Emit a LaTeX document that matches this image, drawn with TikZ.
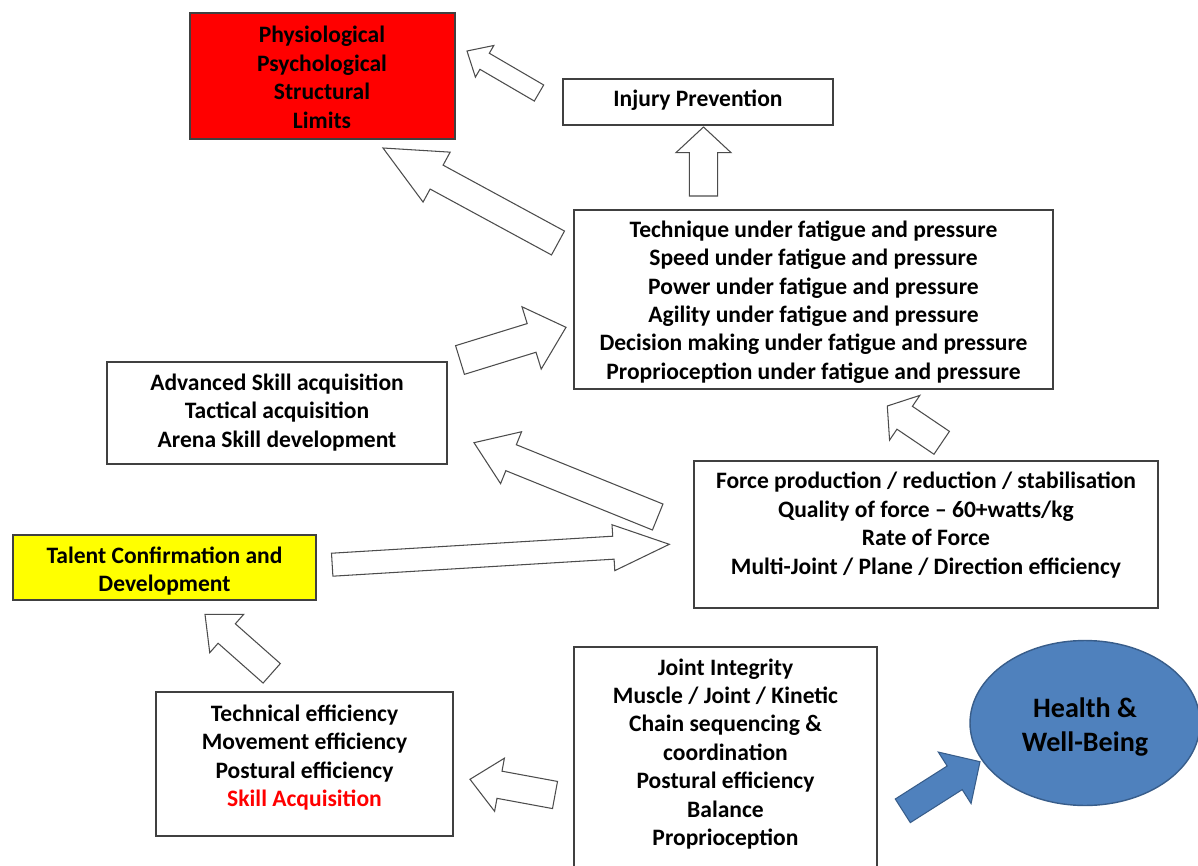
\documentclass[tikz,border=0pt]{standalone}
\usepackage{fontspec}
\setmainfont{Carlito}
\usepackage{xcolor}
\usepackage{tikz}
\usetikzlibrary{
	calc,
	shapes.geometric,
}
\definecolor{limitsred}{rgb}{1.0, 0.0, 0.0}
\definecolor{talentyellow}{rgb}{1.0, 1.0, 0.0}
\definecolor{healthblue}{rgb}{0.31, 0.506, 0.741}
\definecolor{healthedge}{rgb}{0.22, 0.365, 0.541}
\definecolor{boxline}{rgb}{0.25, 0.25, 0.25}
\definecolor{arrowline}{rgb}{0.3, 0.3, 0.3}

% block arrow: [style]{name}{tail}{tip}{half shaft}{half head}{head length}, sizes in px
\newcommand{\barrow}[7][blockarrow]{%
	\coordinate (#2-tail) at (#3);
	\coordinate (#2-tip) at (#4);
	\coordinate (#2-base) at ($(#2-tip)!#7*0.02cm!(#2-tail)$);
	\draw[#1] ($(#2-tail)!#5*0.02cm!90:(#2-tip)$) -- ($(#2-base)!#5*0.02cm!90:(#2-tip)$)
		-- ($(#2-base)!#6*0.02cm!90:(#2-tip)$) -- (#2-tip)
		-- ($(#2-base)!#6*0.02cm!-90:(#2-tip)$) -- ($(#2-base)!#5*0.02cm!-90:(#2-tip)$)
		-- ($(#2-tail)!#5*0.02cm!-90:(#2-tip)$) -- cycle;
}

\begin{document}
\begin{tikzpicture}[x=0.02cm, y=-0.02cm,
	box/.style={draw=boxline, line width=0.8pt},
	txt/.style={align=center, font=\fontsize{13.4}{16.2}\selectfont\bfseries},
	blockarrow/.style={draw=arrowline, fill=white, line width=0.6pt, line join=miter},
	bluearrow/.style={draw=healthedge, fill=healthblue, line width=0.6pt, line join=miter}]
\clip (0,0) rectangle (1198,866);
\fill[white] (0,0) rectangle (1198,866);

% limits
\draw[box, fill=limitsred] (190,13) rectangle (455,139);
\node[txt] (limits) at (322,77.5) {Physiological\\Psychological\\Structural\\Limits};

% injury prevention
\draw[box] (563,79) rectangle (833,125);
\node[txt] (injury) at (698,100) {Injury Prevention};

% under fatigue and pressure
\draw[box] (574,210) rectangle (1053,389);
\node[txt] (fatigue) at (813.5,302) {Technique under fatigue and pressure\\Speed under fatigue and pressure\\Power under fatigue and pressure\\Agility under fatigue and pressure\\Decision making under fatigue and pressure\\Proprioception under fatigue and pressure};

% advanced skill
\draw[box] (107,362) rectangle (447,464);
\node[txt] (advanced) at (277,412.5) {Advanced Skill acquisition\\Tactical acquisition\\Arena Skill development};

% force
\draw[box] (694,461) rectangle (1158,608);
\node[txt] (force) at (926,525) {Force production / reduction / stabilisation\\Quality of force -- 60+watts/kg\\Rate of Force\\Multi-Joint / Plane / Direction efficiency};

% talent
\draw[box, fill=talentyellow] (13,535) rectangle (316,600);
\node[txt] (talent) at (164.5,571) {Talent Confirmation and\\Development};

% efficiency
\draw[box] (156,692) rectangle (453,836);
\node[txt] (efficiency) at (304.5,757.5) {Technical efficiency\\Movement efficiency\\Postural efficiency\\\textcolor{limitsred}{Skill Acquisition}};

% joint integrity
\draw[box] (574,647) rectangle (877,900);
\node[txt] (joint) at (725.5,754) {Joint Integrity\\Muscle / Joint / Kinetic\\Chain sequencing \&\\coordination\\Postural efficiency\\Balance\\Proprioception};

% health
\node[ellipse, draw=healthedge, fill=healthblue, line width=0.8pt, minimum width=4.6cm, minimum height=3.3cm] (health) at (1085,723) {};
\node[align=center, font=\fontsize{16}{19.5}\selectfont\bfseries] (healthtxt) at (1085,727) {Health \&\\Well-Being};

% arrows
\barrow{injLim}{539,93}{467,51}{9.3}{18.3}{20.4}
\barrow{fatInj}{703.5,196}{703.5,127}{14.2}{27.5}{25.6}
\barrow{fatLim}{558,243}{383,148}{13.6}{28.4}{61}
\barrow{advFat}{460,360}{566,327.3}{15}{32.6}{36}
\barrow{forceFat}{941.7,442.8}{887.3,406}{13.8}{27}{21}
\barrow{forceAdv}{657.7,517}{474,442.7}{14}{28}{40}
\barrow{talForce}{332.2,564.7}{669.3,544.3}{11.5}{23}{56}
\barrow{effTal}{271.7,673.3}{205,614.3}{13}{25.6}{29}
\barrow{jointEff}{555,795}{470,779.3}{13.8}{27}{30}
\barrow[bluearrow]{jointHealth}{902.8,810.8}{980,761.7}{14}{30.5}{30}

\end{tikzpicture}
\end{document}
